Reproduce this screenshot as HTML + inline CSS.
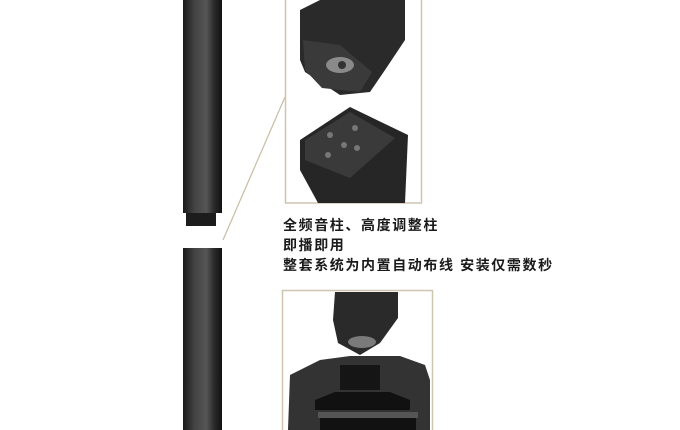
<!DOCTYPE html>
<html><head><meta charset="utf-8"><style>
body{margin:0;width:680px;height:430px;background:#fff;overflow:hidden;position:relative}
svg{position:absolute;left:0;top:0}
.t{position:absolute;left:283px;font:bold 14px "Liberation Sans","Noto Sans CJK SC",sans-serif;color:#1a1a1a;letter-spacing:1.6px;white-space:nowrap;line-height:20px}
</style></head><body>
<svg width="680" height="430" viewBox="0 0 680 430">
<defs>
<linearGradient id="col" x1="0" x2="1"><stop offset="0" stop-color="#1a1a1a"/><stop offset=".3" stop-color="#444"/><stop offset=".6" stop-color="#555"/><stop offset=".8" stop-color="#2a2a2a"/><stop offset="1" stop-color="#111"/></linearGradient>
</defs>
<rect x="183" y="0" width="39" height="213" fill="url(#col)"/>
<rect x="186" y="213" width="30" height="13" fill="#1c1c1c"/>
<rect x="183" y="248" width="39" height="182" fill="url(#col)"/>
<line x1="285" y1="97" x2="223" y2="240" stroke="#c8bda5" stroke-width="1.2"/>
<rect x="285.5" y="-2" width="136" height="205" fill="#fff" stroke="#cfc6b2" stroke-width="1.5"/>
<polygon points="300,10 320,0 405,0 405,40 385,70 370,92 340,95 305,72 300,60" fill="#2a2a2a"/>
<polygon points="303,40 340,45 372,72 360,92 322,88 305,70" fill="#3a3a3a"/>
<ellipse cx="340" cy="65" rx="14" ry="8" fill="#8a8a8a"/>
<circle cx="342" cy="65" r="4" fill="#333"/>
<polygon points="300,140 350,107 408,135 405,203 318,203 300,170" fill="#262626"/>
<polygon points="305,140 350,112 395,138 350,178 305,160" fill="#3a3a3a"/>
<g fill="#777"><circle cx="330" cy="135" r="3"/><circle cx="355" cy="128" r="3"/><circle cx="344" cy="145" r="3"/><circle cx="357" cy="148" r="3"/><circle cx="328" cy="155" r="3"/></g>
<rect x="282.5" y="290.5" width="150" height="141" fill="#fff" stroke="#cfc6b2" stroke-width="1.5"/>
<polygon points="335,292 398,292 398,318 380,343 360,355 338,343 333,320" fill="#2a2a2a"/>
<ellipse cx="362" cy="342" rx="14" ry="6" fill="#7a7a7a"/>
<polygon points="290,375 320,360 350,356 400,356 425,365 430,380 430,430 288,430" fill="#333"/>
<rect x="340" y="365" width="40" height="25" fill="#151515"/>
<polygon points="315,400 335,392 390,392 410,400 410,410 315,410" fill="#111"/>
<rect x="318" y="412" width="100" height="6" fill="#555"/>
<rect x="320" y="418" width="96" height="12" fill="#111"/>
</svg>
<div class="t" style="top:215px">全频音柱、高度调整柱</div>
<div class="t" style="top:235px">即播即用</div>
<div class="t" style="top:255px">整套系统为内置自动布线 安装仅需数秒</div>
</body></html>
